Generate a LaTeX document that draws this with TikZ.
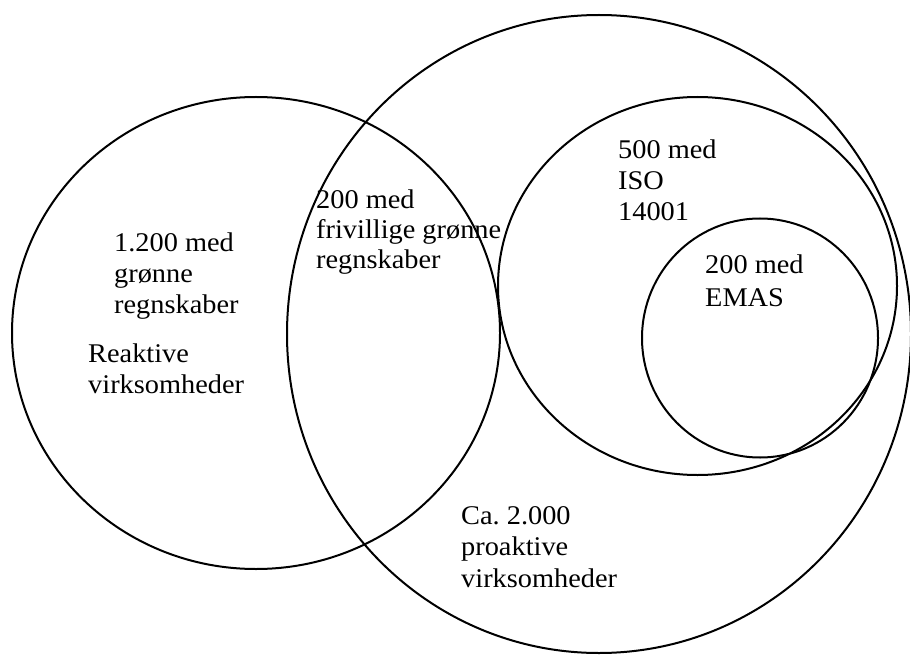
\documentclass[tikz,border=0pt]{standalone}
\usepackage{fontspec}
\setmainfont[FakeStretch=1.05]{Liberation Serif}
\frenchspacing
\begin{document}
\begin{tikzpicture}[x=1pt,y=-1pt,
  ring/.style={draw=black,line width=2pt},
  lbl/.style={anchor=base west,align=left,inner sep=0pt,font=\fontsize{27}{31}\selectfont}]
\useasboundingbox (0,0) rectangle (910,655);
\draw[ring] (256,333) ellipse [x radius=244, y radius=236];
\draw[ring] (599,334) ellipse [x radius=312, y radius=319];
\draw[ring] (697.5,286) ellipse [x radius=199.5, y radius=189];
\draw[ring] (760,338) ellipse [x radius=118, y radius=119.5];
% anchors are at the baseline of each block's last line
\node[lbl] (t1) at (114,313) {1.200 med\\grønne\\regnskaber};
\node[lbl] (t2) at (88,393) {Reaktive\\virksomheder};
\node[lbl,font=\fontsize{27}{30}\selectfont] (t3) at (316,268) {200 med\\frivillige grønne\\regnskaber};
\node[lbl] (t4) at (618,220.5) {500 med\\ISO\\14001};
\node[lbl,font=\fontsize{27}{33}\selectfont] (t5) at (705,306) {200 med\\EMAS};
\node[lbl,font=\fontsize{27}{31.5}\selectfont] (t6) at (461,587) {Ca. 2.000\\proaktive\\virksomheder};
\end{tikzpicture}
\end{document}
